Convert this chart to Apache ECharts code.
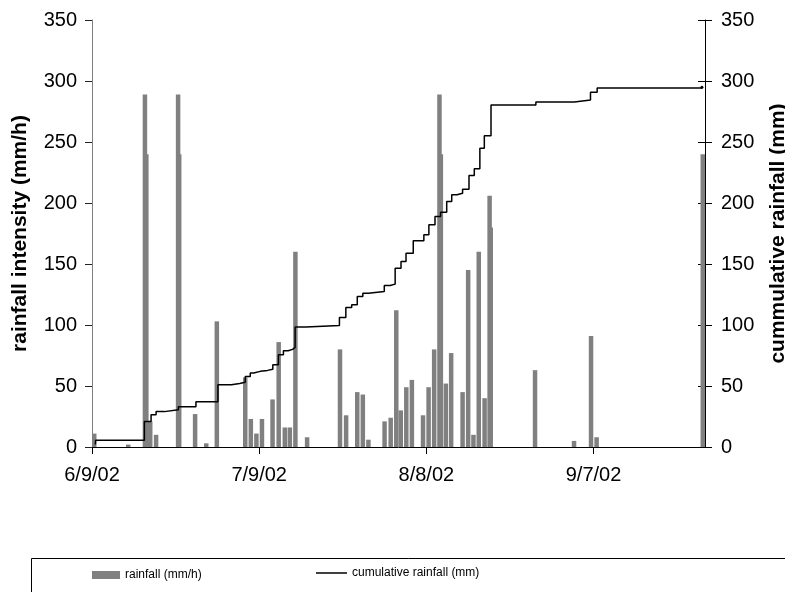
<!DOCTYPE html>
<html><head><meta charset="utf-8">
<script src="https://cdn.jsdelivr.net/npm/echarts@6/dist/echarts.min.js"></script>
<style>html,body{margin:0;padding:0;background:#fff}#c{width:785px;height:592px}</style>
</head><body><div id="c"></div>
<script>
// x values are days since 6/9/02
const xTickDays = [0, 30, 60, 90];
const xTickLabels = ['6/9/02', '7/9/02', '8/8/02', '9/7/02'];

// rainfall intensity bars (mm/h)
const rainDay = [0.4, 6.5, 9.5, 9.75, 10.45, 11.5, 15.45, 15.65, 18.5, 20.5, 22.4, 27.5, 28.5, 29.5, 30.5, 32.4, 33.5, 34.6, 35.5, 36.5, 38.6, 44.5, 45.6, 47.6, 48.6, 49.6, 52.5, 53.6, 54.6, 55.4, 56.4, 57.4, 59.4, 60.4, 61.4, 62.35, 62.6, 63.5, 64.45, 66.5, 67.5, 68.45, 69.4, 70.45, 71.35, 71.55, 79.5, 86.5, 89.55, 90.55, 109.6];
const rainVal = [11, 2, 289, 240, 21, 10, 289, 240, 27, 3, 103, 57, 23, 11, 23, 39, 86, 16, 16, 160, 8, 80, 26, 45, 43, 6, 21, 24, 112, 30, 49, 55, 26, 49, 80, 289, 240, 52, 77, 45, 145, 10, 160, 40, 206, 180, 63, 5, 91, 8, 240];

// cumulative rainfall (mm), step changes
const cumDay = [0.6, 0.65, 9.4, 10.6, 11.5, 13.0, 15.5, 18.65, 22.6, 25.0, 26.5, 27.5, 28.4, 29.0, 30.2, 31.5, 32.45, 33.45, 34.35, 35.2, 36.0, 36.45, 38.4, 44.4, 45.55, 46.6, 47.6, 48.6, 49.6, 52.45, 53.5, 54.4, 55.45, 56.35, 57.65, 59.55, 60.45, 61.55, 62.55, 63.65, 64.55, 65.5, 66.5, 67.65, 68.6, 69.6, 70.4, 71.6, 79.65, 86.55, 89.45, 90.65, 109.45];
const cumVal = [2, 5.5, 21, 26.5, 29, 30.5, 33, 37, 51, 52, 53, 57.8, 60.6, 62, 62.8, 63.8, 67.4, 75.6, 78.9, 80, 81.6, 98.3, 99.6, 106.2, 114.3, 116.7, 123.4, 126.1, 127.5, 132.4, 133.5, 146.6, 152, 158.9, 169, 173.9, 182.1, 188.9, 192.5, 201.2, 206.7, 208, 211.3, 222.5, 228, 244.9, 255.2, 280.4, 282.8, 284.4, 290.8, 294.3, 294.9];

const FONT = "'Liberation Sans', Arial, sans-serif";

const barData = rainDay.map((d, i) => [d, rainVal[i]]);
const lineData = cumDay.map((d, i) => {
  if (i === cumDay.length - 1) return { value: [d, cumVal[i]], symbol: 'circle', symbolSize: 3 };
  return [d, cumVal[i]];
});

const yBase = {
  type: 'value', min: 0, max: 350, interval: 50,
  splitLine: { show: false },
  nameLocation: 'middle', nameRotate: 90,
  nameTextStyle: { fontFamily: FONT, fontSize: 21, fontWeight: 'bold', color: '#000' }
};

const chart = echarts.init(document.getElementById('c'), null, { renderer: 'canvas' });
chart.setOption({
  animation: false,
  backgroundColor: '#fff',
  grid: { left: 92, right: 80, top: 20, bottom: 145, containLabel: false, outerBoundsMode: 'none' },
  xAxis: {
    type: 'value', min: 0, max: 110,
    splitLine: { show: false },
    axisLine: { show: true, onZero: false, lineStyle: { color: '#000', width: 1 } },
    axisTick: { show: true, customValues: xTickDays, length: 7, lineStyle: { color: '#000' } },
    axisLabel: {
      customValues: xTickDays, margin: 18, fontSize: 20, fontFamily: FONT, color: '#000',
      formatter: v => { const i = xTickDays.indexOf(v); return i >= 0 ? xTickLabels[i] : ''; }
    }
  },
  yAxis: [
    Object.assign({}, yBase, {
      position: 'left', name: 'rainfall intensity (mm/h)', nameGap: 61,
      axisLine: { show: true, lineStyle: { color: '#808080', width: 1 } },
      axisTick: { show: true, length: 7, lineStyle: { color: '#222' } },
      axisLabel: { margin: 15, fontSize: 20, fontFamily: FONT, color: '#000' }
    }),
    Object.assign({}, yBase, {
      position: 'right', name: 'cummulative rainfall (mm)', nameGap: 63,
      axisLine: { show: true, lineStyle: { color: '#000', width: 1 } },
      axisTick: { show: true, length: 7, lineStyle: { color: '#000' } },
      axisLabel: { margin: 16, fontSize: 20, fontFamily: FONT, color: '#000' }
    }),
    {
      type: 'value', min: 0, max: 350, interval: 50, position: 'right',
      splitLine: { show: false }, axisLine: { show: false },
      axisTick: { show: true, inside: true, length: 7, lineStyle: { color: '#000' } },
      axisLabel: { show: false }
    }
  ],
  legend: [
    {
      data: ['rainfall (mm/h)'], left: 92, top: 569, padding: 0, icon: 'rect', itemWidth: 28, itemHeight: 8,
      itemGap: 4,
      textStyle: { fontFamily: FONT, fontSize: 12, color: '#000' }
    },
    {
      data: ['cumulative rainfall (mm)'], left: 316, top: 567, padding: 0, icon: 'rect', itemWidth: 31, itemHeight: 1.5,
      textStyle: { fontFamily: FONT, fontSize: 12, color: '#000' }
    }
  ],
  graphic: [{
    type: 'rect', silent: true,
    shape: { x: 31.5, y: 558.5, width: 800, height: 100 },
    style: { fill: 'none', stroke: '#000', lineWidth: 1 }
  }],
  series: [
    {
      name: 'rainfall (mm/h)', type: 'bar', yAxisIndex: 0, barWidth: 4.5,
      itemStyle: { color: '#808080' }, data: barData
    },
    {
      name: 'cumulative rainfall (mm)', type: 'line', yAxisIndex: 1, step: 'end',
      symbol: 'none', showSymbol: true,
      lineStyle: { color: '#000', width: 1.5 }, itemStyle: { color: '#000' },
      data: lineData
    }
  ]
});
</script>
</body></html>
